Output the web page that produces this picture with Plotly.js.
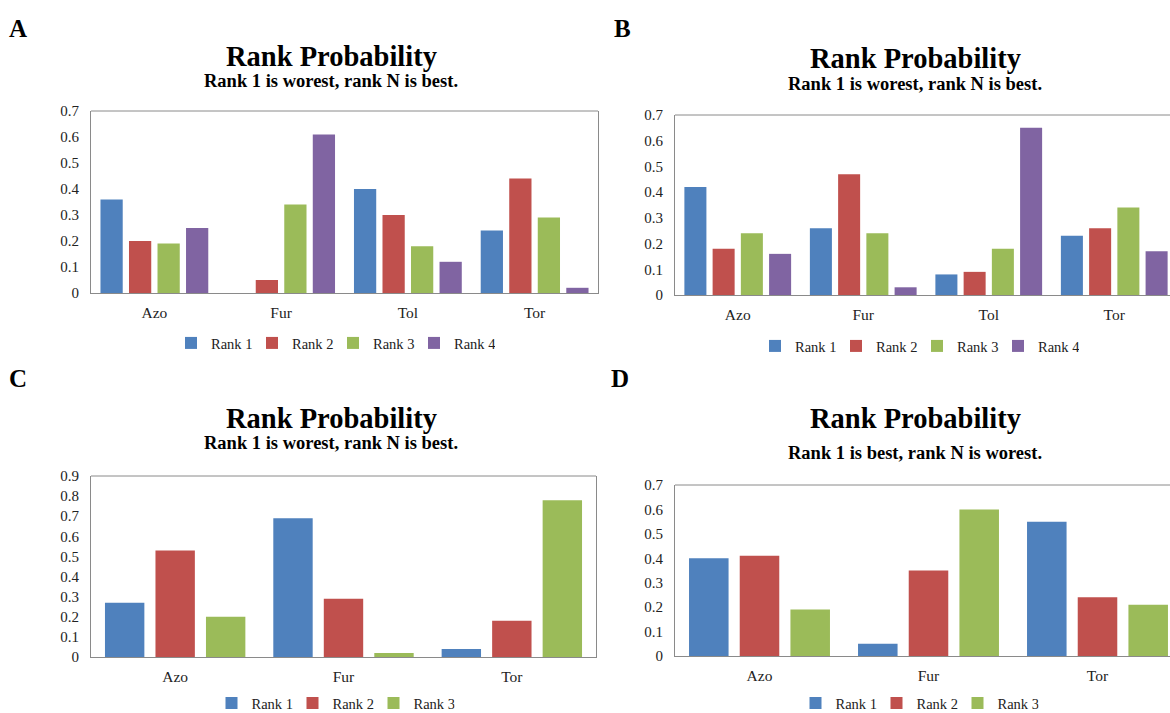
<!DOCTYPE html>
<html>
<head>
<meta charset="utf-8">
<script src="https://cdn.plot.ly/plotly-3.0.1.min.js"></script>
<style>
html, body { margin: 0; padding: 0; background: #ffffff; overflow: hidden; }
#chart { width: 1170px; height: 713px; }
</style>
</head>
<body>
<div id="chart"></div>
<script>
// ---- Data ----
const categories4 = ['Azo', 'Fur', 'Tol', 'Tor'];
const categories3 = ['Azo', 'Fur', 'Tor'];
const seriesNames = ['Rank 1', 'Rank 2', 'Rank 3', 'Rank 4'];
const panelLetters = ['A', 'B', 'C', 'D'];
const mainTitle = 'Rank Probability';
const subTitleWorstFirst = 'Rank 1 is worest, rank N is best.';
const subTitleBestFirst = 'Rank 1 is best, rank N is worest.';

const A_rank1 = [0.36, 0.00, 0.40, 0.24];
const A_rank2 = [0.20, 0.05, 0.30, 0.44];
const A_rank3 = [0.19, 0.34, 0.18, 0.29];
const A_rank4 = [0.25, 0.61, 0.12, 0.02];

const B_rank1 = [0.42, 0.26, 0.08, 0.23];
const B_rank2 = [0.18, 0.47, 0.09, 0.26];
const B_rank3 = [0.24, 0.24, 0.18, 0.34];
const B_rank4 = [0.16, 0.03, 0.65, 0.17];

const C_rank1 = [0.27, 0.69, 0.04];
const C_rank2 = [0.53, 0.29, 0.18];
const C_rank3 = [0.20, 0.02, 0.78];

const D_rank1 = [0.40, 0.05, 0.55];
const D_rank2 = [0.41, 0.35, 0.24];
const D_rank3 = [0.19, 0.60, 0.21];

const yMaxA = 0.7, yMaxB = 0.7, yMaxC = 0.9, yMaxD = 0.7;

// ---- Styling ----
const colors = ['#4F81BD', '#C0504D', '#9BBB59', '#8064A2'];
const W = 1170, H = 713;
const FONT = '"Liberation Serif", "Times New Roman", serif';
const FRAME = '#8a8a8a';
const px = x => x / W;
const py = y => 1 - y / H;

// box: [left, right (may exceed page), top, bottom] in page pixels
const panels = [
  { cats: categories4, series: [A_rank1, A_rank2, A_rank3, A_rank4], ymax: yMaxA,
    box: [91, 598, 111, 293], sub: subTitleWorstFirst,
    letter: [18, 28], title: [331, 56], subY: 81, legend: [333, 343] },
  { cats: categories4, series: [B_rank1, B_rank2, B_rank3, B_rank4], ymax: yMaxB,
    box: [675, 1177, 115, 295], sub: subTitleWorstFirst,
    letter: [622, 28], title: [915, 58], subY: 84, legend: [917, 346] },
  { cats: categories3, series: [C_rank1, C_rank2, C_rank3], ymax: yMaxC,
    box: [91, 596, 476, 657], sub: subTitleWorstFirst,
    letter: [18, 378], title: [331, 418], subY: 443, legend: [333, 703] },
  { cats: categories3, series: [D_rank1, D_rank2, D_rank3], ymax: yMaxD,
    box: [675, 1182, 485, 656], sub: subTitleBestFirst,
    letter: [620, 378], title: [915, 418], subY: 453, legend: [917, 703] }
];

const data = [];
const layout = {
  width: W, height: H, autosize: false,
  margin: { l: 0, r: 0, t: 0, b: 0, autoexpand: false },
  paper_bgcolor: '#ffffff', plot_bgcolor: '#ffffff',
  font: { family: FONT, size: 14, color: '#222222' },
  barmode: 'group', bargap: 0.1, bargroupgap: 0.22,
  showlegend: true,
  annotations: [], shapes: []
};

panels.forEach((p, i) => {
  const n = i + 1;
  const xa = n === 1 ? 'x' : 'x' + n;
  const ya = n === 1 ? 'y' : 'y' + n;
  const legName = n === 1 ? 'legend' : 'legend' + n;
  p.series.forEach((vals, k) => {
    data.push({
      type: 'bar', x: p.cats, y: vals, name: seriesNames[k],
      xaxis: xa, yaxis: ya, legend: legName,
      marker: { color: colors[k], line: { width: 0 } },
      hoverinfo: 'x+y+name'
    });
  });
  const [x0, x1, yTop, yBot] = p.box;
  const clipped = x1 > W;
  const visRight = clipped ? W : x1;
  const nCat = p.cats.length;
  const xRange = [-0.5, -0.5 + nCat * (visRight - x0) / (x1 - x0)];
  const tickvals = [];
  for (let v = 0; v <= p.ymax + 1e-9; v += 0.1) tickvals.push(Math.round(v * 10) / 10);
  layout[n === 1 ? 'xaxis' : 'xaxis' + n] = {
    domain: [px(x0), px(visRight)], anchor: ya, range: xRange,
    showline: true, mirror: false, linecolor: FRAME, linewidth: 1,
    ticks: '', showgrid: false, zeroline: false,
    tickfont: { family: FONT, size: 15.5, color: '#222' },
    ticklabelstandoff: 5, fixedrange: true
  };
  layout[n === 1 ? 'yaxis' : 'yaxis' + n] = {
    domain: [py(yBot), py(yTop)], anchor: xa,
    range: [0, p.ymax], tickvals: tickvals, ticktext: tickvals.map(v => String(v)),
    showline: true, mirror: clipped ? false : true, linecolor: FRAME, linewidth: 1,
    ticks: '', showgrid: false, zeroline: false,
    tickfont: { family: FONT, size: 15, color: '#222' },
    ticklabelstandoff: 8, fixedrange: true
  };
  // top edge of the plot frame (the right edge is cut off by the page for B and D)
  layout.shapes.push({
    type: 'line', xref: xa + ' domain', yref: ya + ' domain',
    x0: 0, x1: 1, y0: 1, y1: 1, line: { color: FRAME, width: 1 }
  });
  layout[legName] = {
    orientation: 'h', x: px(p.legend[0]), y: py(p.legend[1]),
    xanchor: 'center', yanchor: 'middle',
    font: { family: FONT, size: 14.5, color: '#222' },
    bgcolor: 'rgba(0,0,0,0)', itemwidth: 30, tracegroupgap: 0,
    entrywidth: 36, entrywidthmode: 'pixels'
  };
  layout.annotations.push(
    { text: '<b>' + panelLetters[i] + '</b>', x: px(p.letter[0]), y: py(p.letter[1]),
      xref: 'paper', yref: 'paper', xanchor: 'center', yanchor: 'middle', showarrow: false,
      font: { family: FONT, size: 25, color: '#000' } },
    { text: '<b>' + mainTitle + '</b>', x: px(p.title[0]), y: py(p.title[1]),
      xref: 'paper', yref: 'paper', xanchor: 'center', yanchor: 'middle', showarrow: false,
      font: { family: FONT, size: 28.5, color: '#000' } },
    { text: '<b>' + p.sub + '</b>', x: px(p.title[0]), y: py(p.subY),
      xref: 'paper', yref: 'paper', xanchor: 'center', yanchor: 'middle', showarrow: false,
      font: { family: FONT, size: 18.5, color: '#000' } }
  );
});

Plotly.newPlot('chart', data, layout, { displayModeBar: false, staticPlot: true });
</script>
</body>
</html>
